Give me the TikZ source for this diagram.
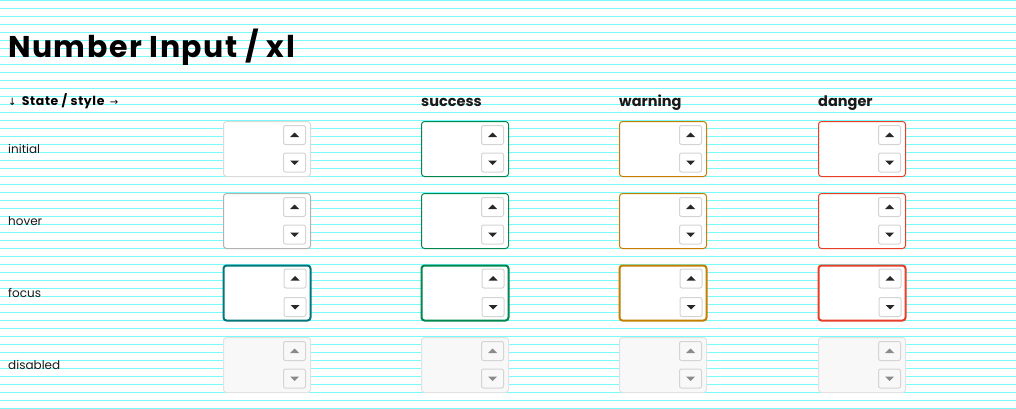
\documentclass[tikz,border=0pt]{standalone}
\usepackage{fontspec}
\usetikzlibrary{positioning}
\setmainfont{Poppins}
\newfontfamily\titlefont[LetterSpace=5]{Poppins}
\newfontfamily\arrowfont{DejaVu Sans}
\definecolor{gridline}{RGB}{120,250,250}
\definecolor{lineinit}{RGB}{218,218,218}
\definecolor{linehover}{RGB}{178,178,178}
\definecolor{focusteal}{RGB}{0,118,122}
\definecolor{success}{RGB}{0,135,80}
\definecolor{warning}{RGB}{196,127,0}
\definecolor{danger}{RGB}{230,62,40}
\definecolor{offfill}{RGB}{248,248,248}
\definecolor{offline}{RGB}{226,226,226}
\definecolor{spinline}{RGB}{212,212,212}
\definecolor{tri}{RGB}{40,40,40}
\definecolor{trioff}{RGB}{138,138,138}
\definecolor{ink}{RGB}{25,25,25}
\begin{document}
\begin{tikzpicture}[x=1pt, y=-1pt,
  field/.style = {draw, rectangle, rounded corners=3pt, fill=white, minimum width=87pt, minimum height=55pt, inner sep=0pt, line width=1pt},
  spin/.style = {draw=spinline, rectangle, rounded corners=2pt, minimum width=22pt, minimum height=19pt, inner sep=0pt, line width=1pt},
  rowname/.style = {anchor=base west, inner sep=0pt, text=ink, font=\fontsize{12}{14}\selectfont},
  colhead/.style = {anchor=base west, inner sep=0pt, text=ink, font=\bfseries\fontsize{14.5}{17}\selectfont}]
  \useasboundingbox (0,0) rectangle (1016,409);
  \fill[white] (0,0) rectangle (1016,409);
  \foreach \k in {0,...,51}
    \draw[gridline, line width=1.2pt] (0,8*\k+0.5) -- (1016,8*\k+0.5);

  \node[anchor=base west, inner sep=0pt, text=black, font=\titlefont\bfseries\fontsize{30}{36}\selectfont] (title) at (8,58) {Number Input / xl};
  \node[anchor=base west, inner sep=0pt, text=black, font=\titlefont\bfseries\fontsize{12.5}{15}\selectfont] (axis) at (8,105.5) {{\mdseries\arrowfont\fontsize{10}{11}\selectfont ↓}\, State / style\, {\mdseries\arrowfont\fontsize{10}{11}\selectfont →}};
  \node[colhead] (success) at (421,106.5) {success};
  \node[colhead] (warning) at (619,106.5) {warning};
  \node[colhead] (danger) at (818,106.5) {danger};
  \node[rowname] (initial) at (8,153) {initial};
  \node[rowname] (hover) at (8,225) {hover};
  \node[rowname] (focus) at (8,297) {focus};
  \node[rowname] (disabled) at (8,369) {disabled};

  \foreach \c/\x/\ini/\hov/\foc in {1/267/lineinit/linehover/focusteal, 2/465/success/success/success, 3/663/warning/warning/warning, 4/862/danger/danger/danger} {
    \node[field, draw=\ini] (i\c) at (\x,149) {};
    \node[field, draw=\hov] (h\c) at (\x,221) {};
    \node[field, draw=\foc, line width=2pt] (f\c) at (\x,293) {};
    \node[field, draw=offline, fill=offfill] (d\c) at (\x,365) {};
    \foreach \r/\sp/\tc in {i/white/tri, h/white/tri, f/white/tri, d/offfill/trioff} {
      \node[spin, fill=\sp, below left=4pt and 5pt of \r\c.north east] (\r\c-up) {};
      \node[spin, fill=\sp, above left=4.5pt and 5pt of \r\c.south east] (\r\c-dn) {};
      \fill[\tc] ([shift={(-4.5,2)}]\r\c-up.center) -- ([shift={(4.5,2)}]\r\c-up.center) -- ([shift={(0,-2.5)}]\r\c-up.center) -- cycle;
      \fill[\tc] ([shift={(-4.5,-2)}]\r\c-dn.center) -- ([shift={(4.5,-2)}]\r\c-dn.center) -- ([shift={(0,2.5)}]\r\c-dn.center) -- cycle;
    }
  }
\end{tikzpicture}
\end{document}
